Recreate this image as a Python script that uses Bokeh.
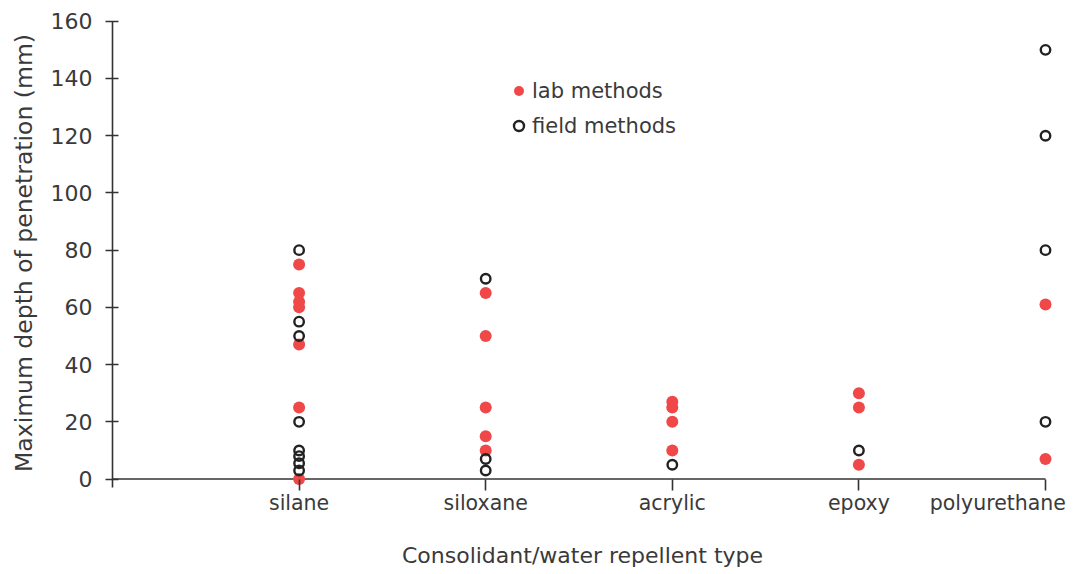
from bokeh.plotting import figure
from bokeh.models import FixedTicker, Range1d, Legend, LegendItem
from bokeh.embed import file_html
from bokeh.resources import INLINE

categories = ["silane", "siloxane", "acrylic", "epoxy", "polyurethane"]

lab_cat = (["silane"] * 7 + ["siloxane"] * 5 + ["acrylic"] * 4
           + ["epoxy"] * 3 + ["polyurethane"] * 2)
lab_val = [75, 65, 62, 60, 47, 25, 0,
           65, 50, 25, 15, 10,
           27, 25, 20, 10,
           30, 25, 5,
           61, 7]

field_cat = (["silane"] * 8 + ["siloxane"] * 3 + ["acrylic"] * 1
             + ["epoxy"] * 1 + ["polyurethane"] * 4)
field_val = [80, 55, 50, 20, 10, 8, 5.5, 3,
             70, 7, 3,
             5,
             10,
             150, 120, 80, 20]

y_ticks = [0, 20, 40, 60, 80, 100, 120, 140, 160]

pos = {c: i + 1 for i, c in enumerate(categories)}
lab_x = [pos[c] for c in lab_cat]
field_x = [pos[c] for c in field_cat]

FONT = "DejaVu Sans"
TXT = "#3a3a3a"
LINE = "#333333"
RED = "#f04848"

p = figure(width=1085, height=572, output_backend="svg", toolbar_location=None,
           x_range=Range1d(0, 5.0375), y_range=Range1d(-4, 162),
           min_border_left=112, min_border_right=33, min_border_top=15,
           min_border_bottom=82)
p.outline_line_color = None
p.grid.visible = False
p.background_fill_color = "white"

# x axis line at y = 0
p.segment(x0=[0], y0=[0], x1=[len(categories)], y1=[0], line_color=LINE, line_width=1.6)

r_lab = p.scatter(lab_x, lab_val, size=12, marker="circle", fill_color=RED, line_color=None)
r_field = p.scatter(field_x, field_val, size=9.5, marker="circle", fill_color=None,
                    line_color="#222222", line_width=2.4)

# y axis
ya = p.yaxis[0]
ya.ticker = FixedTicker(ticks=y_ticks)
ya.bounds = (-3, 160)
ya.axis_line_color = LINE
ya.axis_line_width = 1.6
ya.major_tick_line_color = LINE
ya.major_tick_line_width = 1.6
ya.major_tick_in = 6
ya.major_tick_out = 7
ya.minor_tick_line_color = None
ya.major_label_standoff = 13
ya.major_label_text_font = FONT
ya.major_label_text_font_size = "22px"
ya.major_label_text_color = TXT
ya.axis_label = "Maximum depth of penetration (mm)"
ya.axis_label_text_font = FONT
ya.axis_label_text_font_size = "23.5px"
ya.axis_label_text_font_style = "normal"
ya.axis_label_text_color = TXT
ya.axis_label_standoff = 10

# x axis
xa = p.xaxis[0]
xa.ticker = FixedTicker(ticks=[pos[c] for c in categories])
overrides = {pos[c]: c for c in categories}
overrides[pos["polyurethane"]] = "polyurethane" + "\u00a0" * 3
xa.major_label_overrides = overrides
xa.axis_line_color = None
xa.major_tick_line_color = LINE
xa.major_tick_line_width = 1.6
xa.major_tick_in = 11
xa.major_tick_out = 0
xa.minor_tick_line_color = None
xa.major_label_standoff = 0
xa.major_label_text_font = FONT
xa.major_label_text_font_size = "20.5px"
xa.major_label_text_color = TXT
xa.axis_label = "Consolidant/water repellent type"
xa.axis_label_text_font = FONT
xa.axis_label_text_font_size = "22px"
xa.axis_label_text_font_style = "normal"
xa.axis_label_text_color = TXT
xa.axis_label_standoff = 25

legend = Legend(items=[LegendItem(label="lab methods", renderers=[r_lab]),
                       LegendItem(label="field methods", renderers=[r_field])],
                location=(394, 352), orientation="vertical",
                glyph_width=25, glyph_height=25, label_height=25, spacing=10,
                padding=0, margin=0, label_standoff=1,
                border_line_color=None, background_fill_alpha=0,
                label_text_font=FONT, label_text_font_size="21px",
                label_text_color=TXT)
p.add_layout(legend, "center")

open("out.html", "w").write(file_html(p, INLINE))
